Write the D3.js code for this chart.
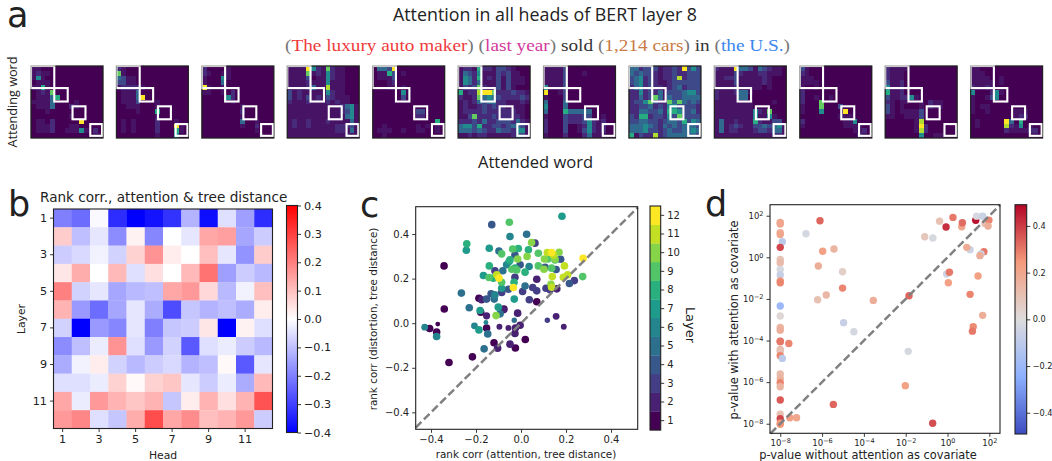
<!DOCTYPE html>
<html>
<head>
<meta charset="utf-8">
<script src="https://cdn.jsdelivr.net/npm/d3@7"></script>
<style>
html, body { margin: 0; padding: 0; background: #fff; overflow: hidden; }
svg { display: block; }
text { font-family: "DejaVu Sans", sans-serif; fill: #222; }
.axis path, .axis line { stroke: #222; stroke-width: 0.9; }
.axis text { fill: #222; }
</style>
</head>
<body>
<svg id="fig" width="1052" height="461"></svg>
<script>
// panel a: attention per head, rows of digits 0-9 (index into attentionLevels)
var attentionLevels = [0, .05, .12, .22, .34, .48, .62, .76, .88, 1];
var head1 = ["110000000000000","121100000000000","151000000000000","011100000000000","116100000000000","012170000000000","011146000000000","111140000100000","011140002100000","000100000000000","000000001000000","011020000090000","011120001100000","011120011151020","000000000000011"];
var head2 = ["210000000000000","710000000000000","431100000000000","331100000000000","122221000000000","011140000000000","011149000000000","011130001000000","001110001000000","000010006000000","000000001000000","010100002000100","010100002000910","010100002000610","000000001000500"];
var head3 = ["200001000000000","210011000000000","100051000000000","100040000000000","910010000000000","110010200000000","000005200000000","000000100000000","000000001000000","000000002000000","000000001000000","000000004001000","000000001002000","000000000001000","000000000000100"];
var head4 = ["111195217211000","111171215211000","111130115211000","111121115111000","111124118111000","312111115211000","312131213211100","211121112121100","111111111112451","111111111112351","111111111111451","121121112111141","121121111122231","111111111122141","111111111111211"];
var head5 = ["044390000000000","011630100000000","011130000000000","000120000000000","000110100000000","000000500000000","000000300000000","000000000000000","000000000000000","000000000330000","000000000220000","000000000000060","001000000101010","011100100110010","001000000000000"];
var head6 = ["122162213321000","143251113231100","154261213131110","154241113131110","132372113131000","612289972223221","211274543222232","121243442211121","121123232211110","122223222222110","113722232222210","222324223332421","455362233234431","444343224332551","112122111112431"];
var head7 = ["111130000000000","111130001000000","111130000000000","111130000000000","511130000000000","900130000000000","100030000000000","400040000000000","500040000000000","400064444400000","100032223300100","200032223521200","200030012521200","200030013521200","100020002411100"];
var head8 = ["442333122329353","434332122322333","345232122382333","345232112333333","245232212342333","225232413334553","224237414334444","233573227474343","223342325533332","224433426653342","326623325373333","334433234436354","444543243434443","444533234334454","613228234444443"];
var head9 = ["211194431432110","111132111221110","112231111121000","111131111121000","111121111101000","211124410000000","211114400000000","111111110000100","111111110000000","111111115217000","111111115115100","141121116211330","141232113343451","141221112332441","111111111111221"];
var head10 = ["310000000000000","210000000000000","111000000000000","111100000000000","100100000000000","200000000000000","200100100000000","200070000000000","100070003000000","100050000900000","000000001110000","200000000115000","100000000111100","000000000001120","000000000000210"];
var head11 = ["211110000000000","211100000000000","211100000000000","311200000000000","511200000000000","611200000000000","311225100000000","210110010211000","310100010211000","310111130000000","110011130000000","000000180000000","000000192000000","000000182000000","000000050011000"];
var head12 = ["110000000000000","111000000000000","111100100000000","111110100000000","211210000000000","500025100000000","100135000000000","100000000000000","101100000000000","100100000111000","000000000122000","010000094060000","010000082150100","000000021111220","000000000000110"];
var attentionHeads = [head1, head2, head3, head4, head5, head6, head7, head8, head9, head10, head11, head12];
var tokenIndex = d3.range(15);
var phraseSpans = [[0, 4.85], [4.85, 7.65], [8.65, 11.35], [12.35, 14.8]];

var sentenceParts = [
  ["(", "#777"], ["The luxury auto maker", "#f03a3a"], [")", "#777"], [" ", "#222"],
  ["(", "#777"], ["last year", "#d2389c"], [")", "#777"], [" sold ", "#333"],
  ["(", "#777"], ["1,214 cars", "#c97b45"], [")", "#777"], [" in ", "#333"],
  ["(", "#777"], ["the U.S.", "#3a86ee"], [")", "#777"]
];

// panel b: rank correlation, rows = layers, columns = heads
var layerNames = d3.range(1, 13), headNames = d3.range(1, 13);
var rankCorr = [
  [-.2,-.23,-.01,-.33,-.4,-.37,-.32,-.12,-.38,-.05,-.15,-.33],
  [.08,-.1,-.04,-.18,.02,-.19,0,-.04,.14,.15,-.14,-.08],
  [-.08,-.06,-.02,-.07,.07,.17,.03,0,.1,-.04,-.17,.08],
  [.04,.13,0,.11,-.05,.05,0,.11,.22,-.15,-.08,-.11],
  [.2,-.07,-.04,-.14,-.11,-.1,.14,.16,.06,-.11,-.02,.1],
  [.12,-.16,-.23,-.14,-.04,-.13,-.28,-.09,-.12,-.1,-.13,.03],
  [-.07,-.4,-.16,-.19,-.04,-.2,-.09,-.08,.04,-.4,.02,-.05],
  [-.18,-.1,-.03,.17,-.05,-.16,-.07,-.26,-.05,-.03,-.08,-.11],
  [-.13,-.02,.03,-.07,-.11,-.08,-.06,-.12,-.1,.01,-.26,-.04],
  [-.05,-.05,-.03,.07,.01,.07,.09,-.04,-.08,-.03,-.13,.11],
  [.14,-.03,.16,.12,.09,.12,-.09,.03,.12,.05,.12,.27],
  [.16,.19,-.05,-.09,.13,.28,.14,.18,.1,.12,.16,-.08]
];
var rankTicks = [-.4,-.3,-.2,-.1,0,.1,.2,.3,.4];

// panel c: [attention corr, distortion corr, layer, weight]
var corrPoints = [
  [-.342,.257,1,1],[-.341,.064,1,1],[-.32,-.176,1,1],[-.216,-.151,1,1],[-.406,-.024,1,1],[-.37,-.004,1,.4],[-.375,-.04,1,1],[-.12,-.088,1,1],[-.179,.049,1,1],[-.153,-.022,1,1],[.07,.096,1,1],[.019,-.073,1,1],[-.187,.112,1,1],[-.076,.063,1,1],[-.025,-.111,1,1],
  [-.096,-.016,2,.6],[-.056,-.021,2,.6],[-.027,-.046,2,1],[-.025,-.022,2,1],[-.004,-.009,2,1],[-.049,-.094,2,1],[.19,-.016,2,.6],[.156,.031,2,.8],[-.079,.06,2,1],[-.015,.045,2,1],[-.153,.033,2,.9],[-.175,.105,2,1],[.159,.154,2,1],[.07,.197,2,1],[-.104,-.112,2,1],
  [.117,.013,3,.5],[-.027,.206,3,1],[.037,.105,3,1],[.07,.145,3,1],[.052,.16,3,1],[.111,.157,3,1],[.129,.15,3,1],[.007,.142,3,1],[.237,.191,3,1],[.062,.359,3,1],[-.116,.235,3,1],[-.086,.138,3,1],
  [.215,.178,4,1],[.156,.241,4,1],[.176,.287,4,1],[.107,.251,4,1],[-.056,.152,4,1],[-.13,.442,4,1],[-.027,.306,4,1],[-.004,.262,4,1],[-.153,.108,4,1],[-.133,.132,4,1],
  [-.164,-.115,5,1],[-.148,-.048,5,1],[-.03,.013,5,.5],[-.265,.135,5,1],[-.23,.069,5,1],[-.119,.108,5,1],[-.093,.042,5,1],[.025,.399,5,1],[-.098,.324,5,1],[.018,.167,5,1],[-.081,.235,5,1],
  [-.156,.003,6,.4],[-.428,-.018,6,.8],[-.375,-.06,6,1],[-.207,-.012,6,.8],[-.049,.389,6,1],[-.064,.262,6,1],[.036,.254,6,1],[-.116,.127,6,1],
  [.182,.48,7,1],[-.187,-.03,7,1],[-.182,.057,7,1],[-.167,.214,7,1],[-.243,.327,7,1],[-.141,.336,7,1],[-.086,.157,7,1],[-.03,.108,7,1],[-.101,.072,7,1],[-.053,.277,7,1],
  [-.241,.356,8,1],[-.141,.257,8,1],[-.123,.202,8,1],[-.031,.184,8,1],[-.012,.335,8,1],[.033,.329,8,1],[.018,.229,8,1],[-.049,.284,8,1],[-.027,.247,8,1],
  [-.052,.453,9,1],[-.037,.333,9,1],[-.086,.311,9,1],[-.142,.205,9,1],[-.086,.184,9,1],[.077,.314,9,1],[.077,.257,9,1],[.119,.288,9,1],[.151,.284,9,1],[-.041,.242,9,1],[-.019,.239,9,1],[.136,.247,9,1],[.274,.209,9,1],
  [-.111,.034,10,1],[.047,.362,10,1],[.027,.299,10,1],[-.015,.288,10,1],[.102,.242,10,1],[.104,.288,10,1],[.169,.318,10,1],[.151,.288,10,1],[.133,.175,10,1],
  [.117,.317,11,1],[.144,.306,11,1],[.139,.209,11,1],[.193,.257,11,1],[.188,.206,11,1],[.207,.217,11,1],[.136,.161,11,1],[-.108,.217,11,1],
  [-.034,.16,12,1],[.276,.291,12,1],[-.098,.202,12,1],[.136,.317,12,1]
];
var corrTicks = [-.4,-.2,0,.2,.4];

// panel d: [log10 p without, log10 p with, colour value]
var pvalPoints = [
  [-8,1.68,.2],[-8,1.6,.2],[-8,1.18,.18],[-8,1.1,.2],[-7.9,.75,-.1],[-8,.48,.38],[-8,-.1,.1],[-8,-.26,.13],[-8,-.58,-.02],[-8,-.85,-.07],[-8,-1.13,.25],[-8,-1.22,.28],[-8,-2.34,-.2],[-8,-2.82,.02],[-8,-3.37,.15],[-8,-3.5,.17],[-8,-4.03,.33],[-8,-4.06,.3],[-8,-4.43,.12],[-8,-4.54,.1],[-8,-4.73,.28],[-7.9,-4.86,-.1],[-8,-5.61,.13],[-8,-5.82,.15],[-8,-6.03,.28],[-8,-6.22,.15],[-8,-6.86,.35],[-8,-7.54,.1],[-8,-7.76,.38],[-8,-7.98,.23],[-8,-8.03,.25],
  [-7.59,-4.14,.28],[-7.54,-7.71,.22],[-7.22,-7.71,.2],[-6.77,1.13,-.03],[-6.1,1.76,.33],[-5.97,.29,.22],[-5.43,.4,.15],[-6.18,-.42,.17],[-5.02,-.69,.05],[-5.02,-1.48,.28],[-5.8,-1.81,.14],[-6.21,-2.04,.1],[-3.55,-2.07,.17],[-4.97,-3.14,-.07],[-4.48,-3.58,-.03],[-1.88,-4.52,-.02],[-2.02,-6.17,.22],[-5.46,-7.07,.33],[-.71,-7.98,.37],[-1.84,-1.85,.33],
  [-.07,1.46,.42],[.26,1.92,.3],[-.38,1.74,.1],[-1.09,.99,.08],[-.7,.93,-.02],[.68,1.47,.2],[.71,1.66,.32],[1.35,1.78,.47],[1.39,1.98,-.02],[1.68,1.98,-.06],[1.79,1.63,.1],[1.98,1.78,.28],[1.94,1.5,.17],[1.08,.37,-.05],[.92,.48,.18],[1.74,.27,.3],[1.6,.16,-.05],[1.55,.08,.17],[-.04,-.8,-.05],[.09,-.72,.3],[.04,-1.22,.22],[1.46,-.9,.22],[1.08,-1.78,.28],[1.68,-2.79,.17],[1.23,-3.34,.27],[1.19,-3.55,.3]
];
var logTicks = [-8,-6,-4,-2,0,2];
var coolTicks = [-.4,-.2,0,.2,.4];

var svg = d3.select("#fig");

function label(x, y, txt, size, rot, anchor) {
    var t = svg.append("text")
        .attr("transform", "translate(" + x + "," + y + ")" + (rot ? " rotate(" + rot + ")" : ""))
        .attr("text-anchor", anchor || "middle")
        .style("font-size", size + "px")
        .text(txt);
    return t;
}

function frame(x0, y0, w, h) {
    svg.append("rect").attr("x", x0).attr("y", y0).attr("width", w).attr("height", h)
        .attr("fill", "none").attr("stroke", "#222").attr("stroke-width", 1.1);
}

function axis(g, x, y, size) {
    g.attr("class", "axis").attr("transform", "translate(" + x + "," + y + ")");
    g.selectAll("text").style("font-size", size + "px");
    g.select(".domain").remove();
}

function gradient(id, scale, lo, hi) {
    var grad = svg.append("defs").append("linearGradient").attr("id", id)
        .attr("x1", 0).attr("y1", 1).attr("x2", 0).attr("y2", 0);
    d3.range(0, 1.001, 0.05).forEach(function(t) {
        grad.append("stop").attr("offset", t).attr("stop-color", scale(lo + (hi - lo) * t));
    });
}

// ---- panel a
var aSize = 72, aTop = 66;
var aX = d3.scaleLinear().domain([0, 11]).range([31, 970.6]);
var cell = d3.scaleBand().domain(tokenIndex).range([0, aSize]);
var spanX = d3.scaleLinear().domain([0, 15]).range([0, aSize]);
// boxes sit a little higher than they sit left in the reference
var spanY = d3.scaleLinear().domain([0.25, 15.25]).range([0, aSize]).clamp(true);

attentionHeads.forEach(function(rows, h) {
    var g = svg.append("g").attr("transform", "translate(" + aX(h) + "," + aTop + ")");
    var vals = [];
    rows.forEach(function(r, i) {
        r.split("").forEach(function(c, j) { vals.push({ r: i, c: j, v: attentionLevels[+c] }); });
    });
    g.selectAll("rect.c").data(vals).join("rect").attr("class", "c")
        .attr("x", d => cell(d.c)).attr("y", d => cell(d.r))
        .attr("width", cell.bandwidth()).attr("height", cell.bandwidth())
        .attr("shape-rendering", "crispEdges")
        .attr("fill", d => d3.interpolateViridis(d.v));
    g.append("rect").attr("width", aSize).attr("height", aSize)
        .attr("fill", "none").attr("stroke", "#222").attr("stroke-width", 1.1);
    g.selectAll("rect.b").data(phraseSpans).join("rect").attr("class", "b")
        .attr("x", d => spanX(d[0])).attr("y", d => spanY(d[0]))
        .attr("width", d => spanX(d[1]) - spanX(d[0])).attr("height", d => spanY(d[1]) - spanY(d[0]))
        .attr("fill", "none").attr("stroke", "#fff").attr("stroke-width", 2.1);
    g.append("rect").attr("width", aSize).attr("height", aSize)
        .attr("fill", "none").attr("stroke", "#222").attr("stroke-opacity", .45).attr("stroke-width", 1.1);
});

label(7, 27, "a", 35, 0, "start");
label(545, 20.5, "Attention in all heads of BERT layer 8", 18)
    .style("font-family", "'Open Sans'").attr("textLength", 304).attr("lengthAdjust", "spacingAndGlyphs");
var sent = svg.append("text").attr("x", 537.5).attr("y", 51).attr("text-anchor", "middle")
    .style("font-family", "'Liberation Serif'").style("font-size", "16.5px")
    .attr("xml:space", "preserve").attr("textLength", 505).attr("lengthAdjust", "spacingAndGlyphs");
sentenceParts.forEach(function(p) {
    sent.append("tspan").style("fill", p[1]).text(p[0]);
});
label(17, 102, "Attending word", 13.5, -90).style("font-family", "'Open Sans'")
    .attr("textLength", 91).attr("lengthAdjust", "spacingAndGlyphs");
label(535.5, 168, "Attended word", 16.5).style("font-family", "'Open Sans'")
    .attr("textLength", 115).attr("lengthAdjust", "spacingAndGlyphs");

// ---- panel b
var bX = d3.scaleBand().domain(headNames).range([53.5, 272.5]);
var bY = d3.scaleBand().domain(layerNames).range([209, 428.5]);
var bwr = d3.scaleLinear().domain([-.4, 0, .4]).range(["#0000ff", "#ffffff", "#ff0000"]);

rankCorr.forEach(function(row, i) {
    svg.append("g").selectAll("rect").data(row).join("rect")
        .attr("x", (d, j) => bX(headNames[j])).attr("y", bY(layerNames[i]))
        .attr("width", bX.bandwidth() + 0.3).attr("height", bY.bandwidth() + 0.3)
        .attr("fill", d => bwr(d));
});
frame(53.5, 209, 219, 219.5);
axis(svg.append("g").call(d3.axisBottom(bX).tickValues(d3.range(1, 13, 2)).tickSize(3.5).tickPadding(3)), 0, 428.5, 11.2);
axis(svg.append("g").call(d3.axisLeft(bY).tickValues(d3.range(1, 13, 2)).tickSize(3.5).tickPadding(3)), 53.5, 0, 11.2);
label(163, 458.5, "Head", 10.8);
label(25, 319, "Layer", 10.8, -90);
label(40, 202, "Rank corr., attention & tree distance", 13.6, 0, "start");
label(8, 216, "b", 35, 0, "start");

gradient("bwrGrad", bwr, -.4, .4);
var bBar = d3.scaleLinear().domain([-.4, .4]).range([432.5, 205.5]);
svg.append("rect").attr("x", 286.5).attr("y", 205.5).attr("width", 11).attr("height", 227).attr("fill", "url(#bwrGrad)");
frame(286.5, 205.5, 11, 227);
axis(svg.append("g").call(d3.axisRight(bBar).tickValues(rankTicks).tickSize(3.5).tickPadding(3).tickFormat(d3.format(".1f"))), 297.5, 0, 11.2);

// ---- panel c
var cX = d3.scaleLinear().domain([-.468, .5185]).range([415.7, 637.7]);
var cY = d3.scaleLinear().domain([-.476, .5226]).range([429.3, 206.7]);
var layerColor = d3.scaleOrdinal().domain(layerNames).range(d3.quantize(d3.interpolateViridis, 12));
var cR = d3.scaleSqrt().domain([0, 1]).range([0, 3.8]);

svg.append("g").selectAll("circle").data(corrPoints).join("circle")
    .attr("cx", d => cX(d[0])).attr("cy", d => cY(d[1])).attr("r", d => cR(d[3]))
    .attr("fill", d => layerColor(d[2]));
svg.append("line")
    .attr("x1", cX(-.468)).attr("y1", cY(-.468)).attr("x2", cX(.5185)).attr("y2", cY(.5185))
    .attr("stroke", "#808080").attr("stroke-width", 2.5).attr("stroke-dasharray", "8,3.5");
frame(415.7, 206.7, 222, 222.6);
var fmtMinus = d => d3.format(".1f")(d).replace("-", "\u2212");
axis(svg.append("g").call(d3.axisBottom(cX).tickValues(corrTicks).tickSize(3.5).tickPadding(3).tickFormat(fmtMinus)), 0, 429.3, 10);
axis(svg.append("g").call(d3.axisLeft(cY).tickValues(corrTicks).tickSize(3.5).tickPadding(3).tickFormat(fmtMinus)), 415.7, 0, 10);
label(526, 458, "rank corr (attention, tree distance)", 10.4);
label(377, 319, "rank corr (distortion, tree distance)", 10.4, -90);
label(360, 217, "c", 35, 0, "start");

var cBar = d3.scaleBand().domain(layerNames.slice().reverse()).range([206, 430]);
svg.append("g").selectAll("rect").data(layerNames).join("rect")
    .attr("x", 650).attr("y", d => cBar(d)).attr("width", 10.7).attr("height", cBar.bandwidth() + 0.3)
    .attr("fill", d => layerColor(d));
frame(650, 206, 10.7, 224);
axis(svg.append("g").call(d3.axisRight(cBar).tickSize(3.5).tickPadding(3)), 660.7, 0, 10);
label(686, 325, "Layer", 13, 90);

// ---- panel d
var dX = d3.scaleLog().domain([Math.pow(10, -8.49), Math.pow(10, 2.51)]).range([770, 1000]);
var dY = d3.scaleLog().domain([Math.pow(10, -8.46), Math.pow(10, 2.53)]).range([433.3, 204.7]);
var coolwarm = d3.scaleLinear().domain([-.491, -.245, 0, .245, .491])
    .range(["#3b4cc0", "#8db0fe", "#dddcdc", "#f49a7b", "#b40426"]);

svg.append("g").selectAll("circle").data(pvalPoints).join("circle")
    .attr("cx", d => dX(Math.pow(10, d[0]))).attr("cy", d => dY(Math.pow(10, d[1]))).attr("r", 3.7)
    .attr("fill", d => coolwarm(d[2]));
svg.append("line")
    .attr("x1", dX(Math.pow(10, -8.47))).attr("y1", dY(Math.pow(10, -8.47)))
    .attr("x2", dX(Math.pow(10, 2.51))).attr("y2", dY(Math.pow(10, 2.51)))
    .attr("stroke", "#808080").attr("stroke-width", 2.5).attr("stroke-dasharray", "8,3.5");
frame(770, 204.7, 230, 228.6);

function logAxis(ticks) {
    ticks.selectAll("text").text(null).each(function(d) {
        var t = d3.select(this);
        t.append("tspan").text("10");
        t.append("tspan").attr("dy", "-0.45em").style("font-size", "6.5px")
            .text(String(Math.round(Math.log10(d))).replace("-", "\u2212"));
    });
}
var logVals = logTicks.map(e => Math.pow(10, e));
var dxAxis = svg.append("g").call(d3.axisBottom(dX).tickValues(logVals).tickSize(3.5).tickPadding(3));
axis(dxAxis, 0, 433.3, 8.5);
logAxis(dxAxis);
var dyAxis = svg.append("g").call(d3.axisLeft(dY).tickValues(logVals).tickSize(3.5).tickPadding(3));
axis(dyAxis, 770, 0, 8.5);
logAxis(dyAxis);
label(868, 458.5, "p-value without attention as covariate", 11.4);
label(738, 320, "p-value with attention as covariate", 11.4, -90);
label(705, 216, "d", 35, 0, "start");

gradient("coolGrad", coolwarm, -.491, .491);
var dBar = d3.scaleLinear().domain([-.491, .491]).range([434, 204.7]);
svg.append("rect").attr("x", 1015).attr("y", 204.7).attr("width", 11.7).attr("height", 229.3).attr("fill", "url(#coolGrad)");
frame(1015, 204.7, 11.7, 229.3);
axis(svg.append("g").call(d3.axisRight(dBar).tickValues(coolTicks).tickSize(3.5).tickPadding(2.5).tickFormat(fmtMinus)), 1026.7, 0, 8.2);
</script>
</body>
</html>
